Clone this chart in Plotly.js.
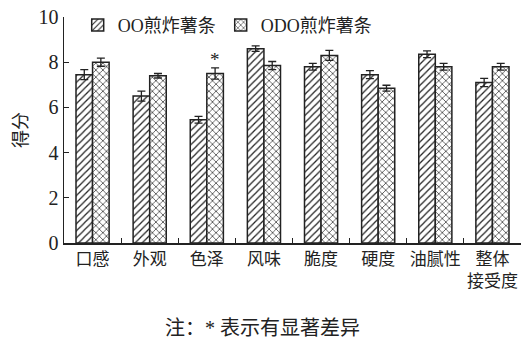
<!DOCTYPE html>
<html><head><meta charset="utf-8">
<script src="https://cdn.plot.ly/plotly-3.0.1.min.js"></script>
<style>body{margin:0;background:#fff}#c{width:526px;height:340px}</style>
</head><body><div id="c"></div>
<script>
const categories = ["口感","外观","色泽","风味","脆度","硬度","油腻性","整体<br>接受度"];
const ooValues  = [7.45, 6.5, 5.45, 8.6, 7.8, 7.45, 8.35, 7.1];
const ooErrors  = [0.22, 0.22, 0.15, 0.12, 0.15, 0.18, 0.15, 0.18];
const odoValues = [8.0, 7.4, 7.5, 7.85, 8.3, 6.85, 7.8, 7.8];
const odoErrors = [0.18, 0.1, 0.25, 0.18, 0.22, 0.13, 0.15, 0.15];
const seriesNames = ["OO煎炸薯条","ODO煎炸薯条"];
const sigMarks = ["","","*","","","","",""];
const note = "注：* 表示有显著差异";

const ink = '#222';
const fontFam = '"Liberation Serif", "Noto Sans CJK SC", serif';
function bar(name, y, err, shape, size){
  return {type:'bar', name:name, x:categories, y:y,
    marker:{color:'white', line:{color:ink, width:1.5},
      pattern:{shape:shape, fgcolor:ink, bgcolor:'white', size:size, solidity:0.25, fillmode:'replace'}},
    error_y:{type:'data', array:err, visible:true, color:ink, thickness:1.3, width:4}};
}
const traces = [bar(seriesNames[0], ooValues, ooErrors, '/', 5),
                bar(seriesNames[1], odoValues, odoErrors, 'x', 5)];
const annotations = [];
categories.forEach((c,i)=>{
  if(sigMarks[i]){
    annotations.push({x:c, y:odoValues[i]+odoErrors[i], xref:'x', yref:'y', text:sigMarks[i],
      showarrow:false, xshift:8.5, yanchor:'bottom', yshift:-4, font:{size:19, family:fontFam, color:ink}});
  }
});
annotations.push({x:0.435, y:-0.375, xref:'paper', yref:'paper', text:note, showarrow:false,
  xanchor:'center', yanchor:'middle', font:{size:20, family:fontFam, color:ink}});
const layout = {
  width:526, height:340, margin:{l:64, r:5, t:17, b:97},
  paper_bgcolor:'white', plot_bgcolor:'white',
  font:{family:fontFam, color:ink},
  barmode:'group', bargap:0.42, bargroupgap:0,
  showlegend:true,
  legend:{orientation:'h', x:0.03, y:1.045, yanchor:'top', xanchor:'left',
    font:{size:18, family:fontFam, color:ink}, bgcolor:'rgba(0,0,0,0)', tracegroupgap:0},
  xaxis:{showline:true, linecolor:ink, linewidth:1.5, ticks:'inside', ticklen:5, tickcolor:ink,
    tickson:'boundaries', tickangle:0, tickfont:{size:17, family:fontFam, color:ink}, showgrid:false, zeroline:false},
  yaxis:{range:[0,10], dtick:2, showline:true, linecolor:ink, linewidth:1.5, ticks:'inside', ticklen:5,
    tickcolor:ink, tickfont:{size:20, family:fontFam, color:ink}, showgrid:false, zeroline:false,
    title:{text:'得分', font:{size:18, family:fontFam, color:ink}, standoff:6}},
  annotations:annotations
};
Plotly.newPlot('c', traces, layout, {displayModeBar:false, staticPlot:true});
</script></body></html>
